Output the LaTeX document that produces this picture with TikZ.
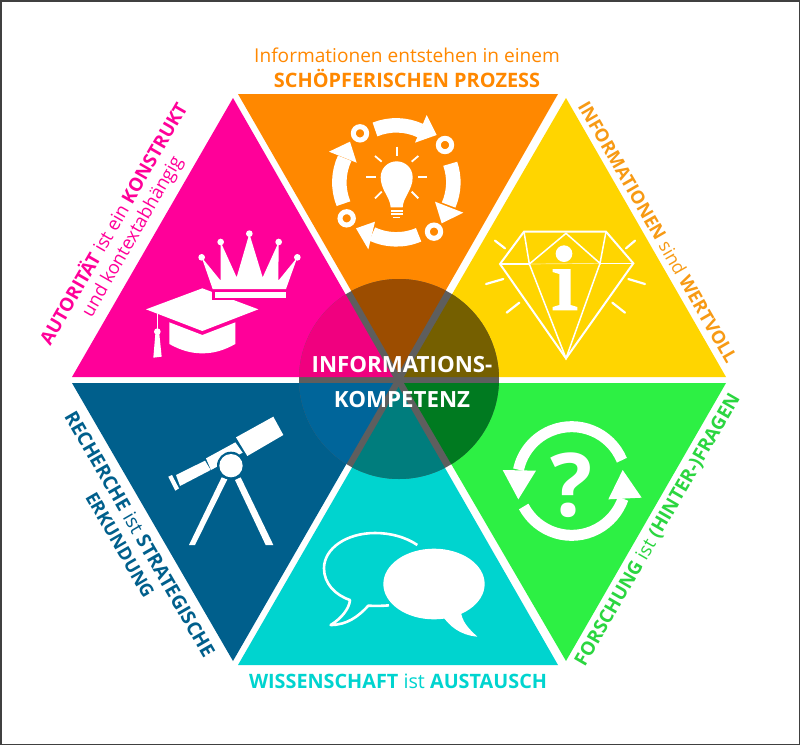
\documentclass[tikz,border=0pt]{standalone}
\usepackage{fontspec}
\setmainfont{Open Sans}
\definecolor{corange}{HTML}{FF8800}
\definecolor{cyellow}{HTML}{FFD500}
\definecolor{cgreen}{HTML}{2DF044}
\definecolor{cteal}{HTML}{00D4CF}
\definecolor{cblue}{HTML}{005F8C}
\definecolor{cpink}{HTML}{FF0099}
\definecolor{dorange}{HTML}{9C4D00}
\definecolor{dyellow}{HTML}{755F00}
\definecolor{dgreen}{HTML}{007A20}
\definecolor{dteal}{HTML}{007D7D}
\definecolor{dblue}{HTML}{00659A}
\definecolor{dpink}{HTML}{F0007F}
\definecolor{dgap}{HTML}{5E5E5E}
\definecolor{tyellow}{HTML}{F79A14}
\definecolor{tgreen}{HTML}{2BD640}
\newcommand{\ringarc}[5]{\draw[white,line width=#5pt] (#1) ++(#3:#2) arc[start angle=#3,end angle=#4,radius=#2];}
\newcommand{\lab}[1]{\fontsize{#1}{#1}\selectfont}
\tikzset{icon/.style={fill=white,draw=none},
 lbl/.style={inner sep=0pt,anchor=center},
 ray/.style={white,line width=2.2pt,line cap=round}}
\begin{document}
\begin{tikzpicture}[x=1pt,y=-1pt]
\useasboundingbox (0,0) rectangle (800,745);
\fill[white] (0,0) rectangle (800,745);
\draw[black!75,line width=1.5pt] (0.75,0.75) rectangle (799.25,744.25);
% triangles
\def\torange{(398.5,373)--(238,94)--(558,94)--cycle}
\def\tyellowp{(404,377)--(566,98)--(726,377)--cycle}
\def\tgreenp{(404,383)--(726,383)--(566,661)--cycle}
\def\ttealp{(398.5,387)--(558,665)--(238,665)--cycle}
\def\tbluep{(393,383)--(72,383)--(233,661)--cycle}
\def\tpinkp{(393,377)--(72,377)--(233,98)--cycle}
\fill[corange] \torange;
\fill[cyellow] \tyellowp;
\fill[cgreen] \tgreenp;
\fill[cteal] \ttealp;
\fill[cblue] \tbluep;
\fill[cpink] \tpinkp;
% centre circle
\begin{scope}
\clip (399,379) circle[radius=100];
\fill[dgap] (290,270) rectangle (510,490);
\fill[dorange] \torange;
\fill[dyellow] \tyellowp;
\fill[dgreen] \tgreenp;
\fill[dteal] \ttealp;
\fill[dblue] \tbluep;
\fill[dpink] \tpinkp;
\end{scope}
\node[lbl,white] (c1) at (402,365) {\lab{22.3}\bfseries INFORMATIONS-};
\node[lbl,white] (c2) at (402,400) {\lab{22.3}\bfseries KOMPETENZ};
% outer labels
\node[lbl,corange] (t1) at (407,55) {\lab{19.1}Informationen entstehen in einem};
\node[lbl,corange] (t2) at (407,78) {\lab{19.9}\bfseries SCHÖPFERISCHEN PROZESS};
\node[lbl,tyellow,rotate=-60] (r1) at (658,232) {\lab{18.2}\textbf{INFORMATIONEN} sind \textbf{WERTVOLL}};
\node[lbl,cpink,rotate=60] (l1) at (112,223) {\lab{18.6}\textbf{AUTORITÄT} ist ein \textbf{KONSTRUKT}};
\node[lbl,cpink,rotate=60] (l2) at (133,237) {\lab{18.4}und kontextabhängig};
\node[lbl,cblue,rotate=-60] (b1) at (140,534) {\lab{19.3}\textbf{RECHERCHE} ist \textbf{STRATEGISCHE}};
\node[lbl,cblue,rotate=-60] (b2) at (120,545) {\lab{18.2}\bfseries ERKUNDUNG};
\node[lbl,tgreen,rotate=60] (g1) at (658,530) {\lab{18.8}\textbf{FORSCHUNG} ist \textbf{(HINTER-)FRAGEN}};
\node[lbl,cteal] (w1) at (398,681) {\lab{19.8}\textbf{WISSENSCHAFT} ist \textbf{AUSTAUSCH}};
% ---- orange icon
\begin{scope}[shift={(300,90)},scale=1/3]
\coordinate (oc) at (289,277);
\ringarc{oc}{171}{248}{295}{14.5}
\ringarc{oc}{171}{341}{383.5}{14.5}
\ringarc{oc}{171}{67}{115}{14.5}
\ringarc{oc}{171}{158}{205}{14.5}
\fill[icon] (410,135)--(380,75)--(345,158)--cycle;
\fill[icon] (425,400)--(405,335)--(490,368)--cycle;
\fill[icon] (168,415)--(225,395)--(205,478)--cycle;
\fill[icon] (150,155)--(87,185)--(170,218)--cycle;
\foreach \p in {(180,130),(435,165),(402,425),(140,385)}{
 \draw[white,line width=5pt] \p circle[radius=20];}
\fill[icon] (272,352) .. controls (270,320) and (242,300) .. (242,262) .. controls (242,234) and (264,214) .. (290,214) .. controls (316,214) and (338,234) .. (338,262) .. controls (338,300) and (310,320) .. (308,352) -- cycle;
\foreach \yy in {360,370}{\fill[icon] (272,\yy) rectangle (308,\yy+5);}
\fill[icon] (280,380) rectangle (300,385);
\foreach \a/\b/\c/\d in {290/170/290/198,225/198/245/215,335/215/355/198,198/262/228/262,355/262/382/262,225/325/245/305,335/305/355/325}{
 \draw[white,line width=1.8pt] (\a,\b)--(\c,\d);}
\end{scope}
% ---- diamond
\begin{scope}[shift={(470,200)},scale=1/3]
\draw[white,line width=2pt,line join=miter] (162,95)--(408,95)--(490,190)--(288,475)--(90,192)--cycle;
\draw[white,line width=1.5pt] (162,95)--(178,192)--(288,100)--(390,190)--(408,95);
\draw[white,line width=1.5pt] (178,192)--(288,475)--(390,190);
\draw[white,line width=1.5pt] (90,192)--(178,192);
\draw[white,line width=1.5pt] (390,190)--(490,190);
\draw[white,line width=0.7pt,opacity=.6] (178,192)--(390,190);
\foreach \a/\b/\c/\d in {75/122/105/145,495/122/468/145,48/252/100/237,525/252/475/237,110/338/148/308,465/338/427/308}{
 \draw[ray] (\a,\b)--(\c,\d);}
\fill[icon] (282,161) circle[radius=25];
\fill[icon] (248,207)--(302,207)--(302,315)--(322,321)--(322,331)--(248,331)--(248,321)--(268,315)--(268,222)--(248,216)--cycle;
\end{scope}
% ---- crown and cap
\begin{scope}[shift={(130,220)},scale=1/3]
\fill[icon] (48,268)--(217,205)--(385,268)--(217,333)--cycle;
\fill[icon] (118,307)--(217,345)--(316,307)--(316,372) .. controls (280,392) and (250,400) .. (217,400) .. controls (184,400) and (154,392) .. (118,372) -- cycle;
\draw[white,line width=1pt] (82,283)--(82,335);
\fill[icon] (82,335) circle[radius=10];
\fill[icon] (76,342)--(88,342)--(95,410)--(70,413)--cycle;
\fill[cpink] (246,207) rectangle (470,240);
\fill[icon] (248,207)--(215,112)--(272,182)--(272,66)--(320,172)--(358,41)--(398,172)--(446,66)--(445,182)--(502,112)--(468,207)--cycle;
\foreach \p/\r in {215/112,272/66,358/41,446/66,502/112}{\fill[icon] (\p,\r) circle[radius=10];}
\fill[icon] (255,216) rectangle (468,233);
\end{scope}
% ---- telescope
\begin{scope}[shift={(150,400)},scale=1/3]
\fill[icon] (258,112)--(370,50)--(400,105)--(292,168)--cycle;
\fill[icon] (168,175)--(256,127)--(278,158)--(183,210)--cycle;
\fill[icon] (78,225)--(165,182)--(182,210)--(90,258)--cycle;
\fill[icon] (55,230)--(66,225)--(87,265)--(76,272)--cycle;
\fill[icon] (215,232)--(232,238)--(135,435)--(117,435)--cycle;
\fill[icon] (255,240)--(272,232)--(370,435)--(347,435)--cycle;
\fill[cblue] (243,197) circle[radius=42];
\fill[icon] (243,197) circle[radius=35];
\end{scope}
% ---- speech bubbles
\begin{scope}[shift={(310,520)},scale=1/3]
\draw[white,line width=2.6pt,line join=round] (322,75) .. controls (285,50) and (240,39) .. (195,39) .. controls (110,39) and (42,85) .. (42,145) .. controls (42,190) and (75,225) .. (120,240) .. controls (118,265) and (95,295) .. (62,315) .. controls (110,315) and (145,290) .. (175,257) .. controls (195,258) and (215,258) .. (237,256);
\fill[icon] (372,192) ellipse[x radius=152,y radius=106];
\fill[icon] (395,285) .. controls (420,320) and (450,345) .. (502,350) .. controls (475,325) and (455,305) .. (452,270) -- cycle;
\end{scope}
% ---- question arrows
\begin{scope}[shift={(490,410)},scale=1/3]
\coordinate (qc) at (245,213);
\ringarc{qc}{163}{337.5}{192}{11}
\ringarc{qc}{163}{152}{19}{11}
\fill[icon] (38,180)--(138,182)--(85,268)--cycle;
\fill[icon] (355,268)--(455,263)--(398,180)--cycle;
\end{scope}
\node[lbl,white] (q) at (571.5,485) {\fontsize{88}{88}\selectfont\bfseries ?};
\end{tikzpicture}
\end{document}
